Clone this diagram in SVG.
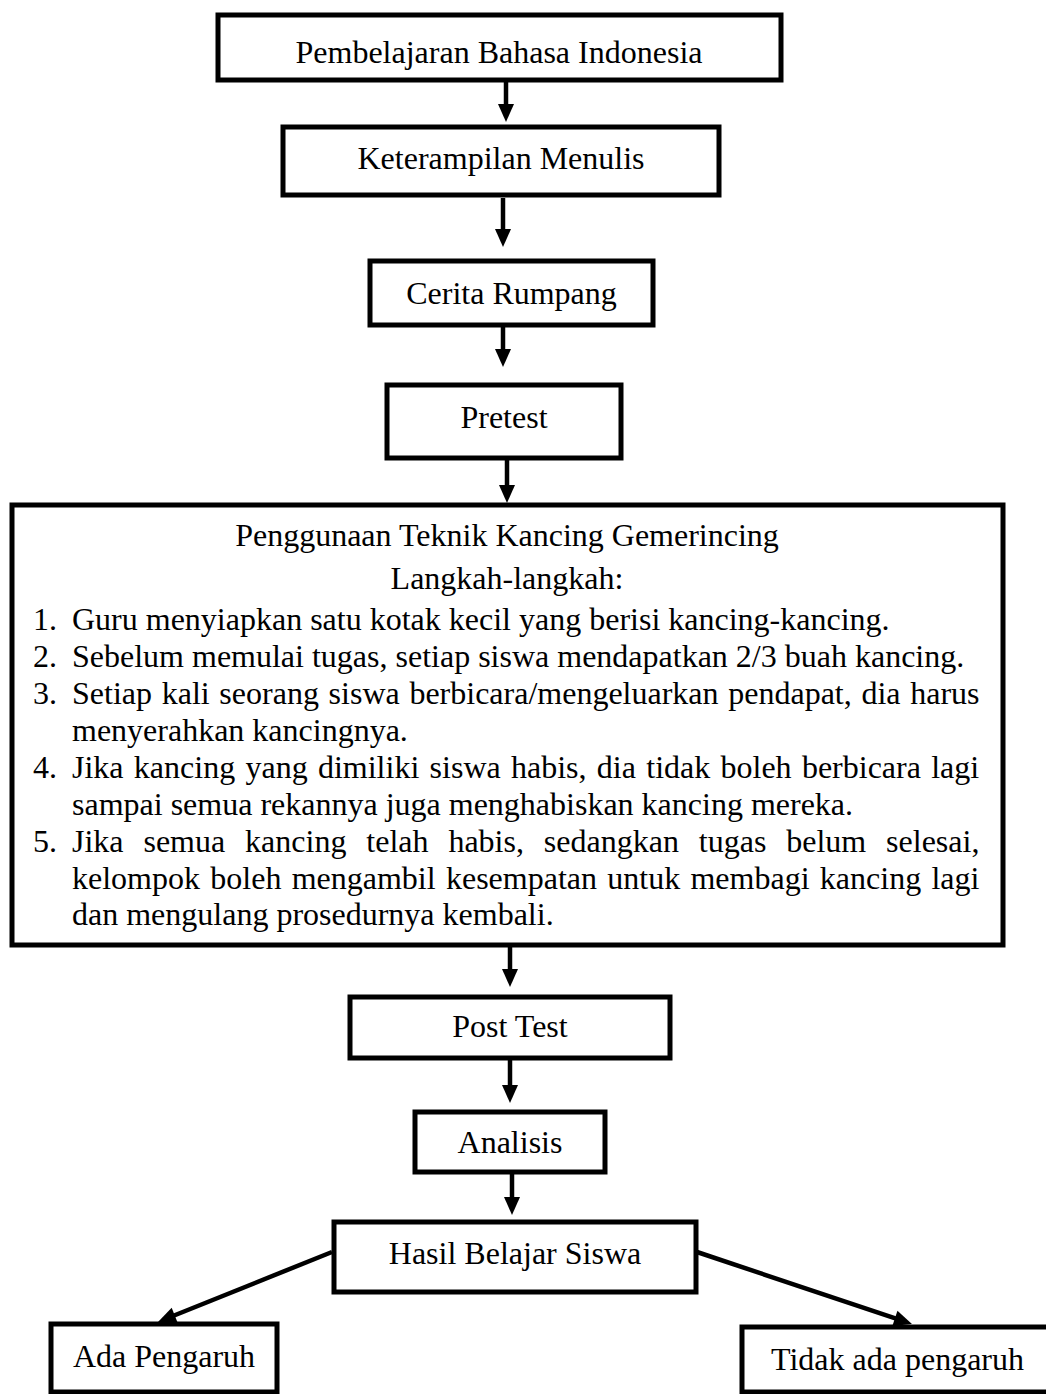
<svg xmlns="http://www.w3.org/2000/svg" width="1046" height="1394" viewBox="0 0 1046 1394">
<defs>
<style>
.box{fill:#fff;stroke:#000;stroke-width:5}
.lbl{font-family:"Liberation Serif","Times New Roman",serif;font-size:32px;fill:#000;text-anchor:middle}
.li{font-family:"Liberation Serif","Times New Roman",serif;font-size:32px;fill:#000}
.con{stroke:#000;stroke-width:4.5;fill:none;marker-end:url(#ah)}
</style>
<marker id="ah" markerUnits="userSpaceOnUse" markerWidth="18" markerHeight="16" refX="6" refY="8" orient="auto" overflow="visible">
<path d="M0,0 L18,8 L0,16 z" fill="#000"/>
</marker>
</defs>
<rect width="1046" height="1394" fill="#fff"/>
<g id="connectors">
<line class="con" x1="506" y1="80" x2="506" y2="110"/>
<line class="con" x1="503" y1="198" x2="503" y2="235"/>
<line class="con" x1="503" y1="325" x2="503" y2="355"/>
<line class="con" x1="507" y1="458" x2="507" y2="491"/>
<line class="con" x1="510" y1="945" x2="510" y2="975"/>
<line class="con" x1="510" y1="1058" x2="510" y2="1091"/>
<line class="con" x1="512" y1="1172" x2="512" y2="1203"/>
<line class="con" x1="332" y1="1252" x2="169.1" y2="1317.5"/>
<line class="con" x1="697" y1="1252" x2="900.6" y2="1320.2"/>
</g>
<g id="n1"><rect class="box" x="218" y="15" width="563" height="65"/><text class="lbl" x="499" y="63">Pembelajaran Bahasa Indonesia</text></g>
<g id="n2"><rect class="box" x="283" y="127" width="436" height="68"/><text class="lbl" x="501" y="169">Keterampilan Menulis</text></g>
<g id="n3"><rect class="box" x="370" y="261" width="283" height="64"/><text class="lbl" x="511.5" y="304">Cerita Rumpang</text></g>
<g id="n4"><rect class="box" x="387" y="385" width="234" height="73"/><text class="lbl" x="504" y="428">Pretest</text></g>
<g id="n5">
<rect class="box" x="12" y="505" width="991" height="440"/>
<text class="lbl" x="507" y="546">Penggunaan Teknik Kancing Gemerincing</text>
<text class="lbl" x="507" y="589">Langkah-langkah:</text>
<text class="li" x="33" y="630">1.</text><text class="li" x="72" y="630">Guru menyiapkan satu kotak kecil yang berisi kancing-kancing.</text>
<text class="li" x="33" y="667">2.</text><text class="li" x="72" y="667">Sebelum memulai tugas, setiap siswa mendapatkan 2/3 buah kancing.</text>
<text class="li" x="33" y="704">3.</text><text class="li" x="72" y="704" style="word-spacing:1.7px">Setiap kali seorang siswa berbicara/mengeluarkan pendapat, dia harus</text>
<text class="li" x="72" y="741">menyerahkan kancingnya.</text>
<text class="li" x="33" y="778">4.</text><text class="li" x="72" y="778" style="word-spacing:2.3px">Jika kancing yang dimiliki siswa habis, dia tidak boleh berbicara lagi</text>
<text class="li" x="72" y="815">sampai semua rekannya juga menghabiskan kancing mereka.</text>
<text class="li" x="33" y="852">5.</text><text class="li" x="72" y="852" style="word-spacing:11.9px">Jika semua kancing telah habis, sedangkan tugas belum selesai,</text>
<text class="li" x="72" y="889" style="word-spacing:2.3px">kelompok boleh mengambil kesempatan untuk membagi kancing lagi</text>
<text class="li" x="72" y="925">dan mengulang prosedurnya kembali.</text>
</g>
<g id="n6"><rect class="box" x="350" y="997" width="320" height="61"/><text class="lbl" x="510" y="1037">Post Test</text></g>
<g id="n7"><rect class="box" x="415" y="1112" width="190" height="60"/><text class="lbl" x="510" y="1153">Analisis</text></g>
<g id="n8"><rect class="box" x="334" y="1222" width="362" height="70"/><text class="lbl" x="515" y="1264">Hasil Belajar Siswa</text></g>
<g id="n9"><rect class="box" x="51" y="1324" width="226" height="68"/><text class="lbl" x="164" y="1367">Ada Pengaruh</text></g>
<g id="n10"><rect class="box" x="742" y="1327" width="311" height="65"/><text class="lbl" x="897.5" y="1370">Tidak ada pengaruh</text></g>
</svg>
